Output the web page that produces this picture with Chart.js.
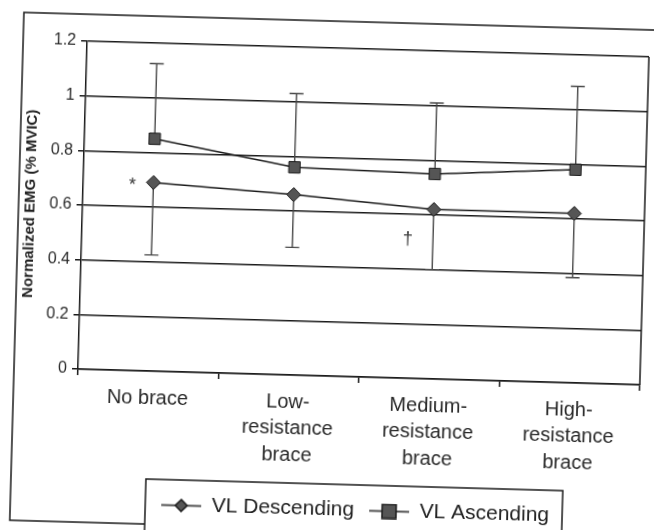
<!DOCTYPE html>
<html>
<head>
<meta charset="utf-8">
<script src="https://cdn.jsdelivr.net/npm/chart.js@4.4.1/dist/chart.umd.min.js"></script>
<style>
  html, body { margin: 0; padding: 0; background: #fff; overflow: hidden; }
  #wrap { width: 654px; height: 560px; transform: rotate(1.6deg); transform-origin: 327px 265px; }
</style>
</head>
<body>
<div id="wrap"><canvas id="grafico" width="654" height="560"></canvas></div>
<script>
// values (skew removed)
const categories = [['No brace'], ['Low-', 'resistance', 'brace'], ['Medium-', 'resistance', 'brace'], ['High-', 'resistance', 'brace']];
const descending = [0.69, 0.66, 0.62, 0.62];
const descendingLow = [0.425, 0.467, 0.40, 0.385];
const ascending = [0.85, 0.76, 0.75, 0.78];
const ascendingHigh = [1.125, 1.03, 1.01, 1.085];
const yTicks = [0, 0.2, 0.4, 0.6, 0.8, 1, 1.2];
// significance marks, in category index / value units
const notes = [{ text: '*', x: -0.15, y: 0.675 }, { text: '†', x: 1.82, y: 0.51 }];

const ink = '#1a1a1a';

function legendIcon(shape) {
  const c = document.createElement('canvas');
  c.width = 40; c.height = 16;
  const g = c.getContext('2d');
  g.strokeStyle = ink; g.lineWidth = 1.5;
  g.beginPath(); g.moveTo(0, 8); g.lineTo(40, 8); g.stroke();
  g.fillStyle = '#555';
  if (shape === 'diamond') {
    g.beginPath(); g.moveTo(20, 2); g.lineTo(26, 8); g.lineTo(20, 14); g.lineTo(14, 8); g.closePath();
    g.fill(); g.stroke();
  } else {
    g.fillRect(13, 1, 14, 14); g.strokeRect(13, 1, 14, 14);
  }
  return c;
}
const icons = [legendIcon('diamond'), legendIcon('square')];

const frame = {
  id: 'frame',
  beforeDraw(chart) {
    const ctx = chart.ctx;
    ctx.save();
    ctx.fillStyle = '#fff';
    ctx.fillRect(0, 0, chart.width, chart.height);
    ctx.strokeStyle = ink; ctx.lineWidth = 1.5;
    ctx.strokeRect(17, 21, 700, 508);
    // legend box
    const hb = chart.legend.legendHitBoxes;
    const l = Math.min(...hb.map(h => h.left)) - 16;
    const r = Math.max(...hb.map(h => h.left + h.width)) + 13;
    const t = chart.legend.top;
    ctx.fillRect(l, t, r - l, 80);
    ctx.strokeRect(l, t, r - l, 80);
    ctx.restore();
  },
  afterDatasetsDraw(chart) {
    const { ctx, chartArea: a, scales: { x, y } } = chart;
    ctx.save();
    ctx.strokeStyle = ink; ctx.lineWidth = 1.5;
    ctx.beginPath(); ctx.moveTo(a.right, a.top); ctx.lineTo(a.right, a.bottom); ctx.stroke();
    ctx.fillStyle = '#333';
    ctx.font = '18px "Liberation Sans", Arial, sans-serif';
    ctx.textAlign = 'center'; ctx.textBaseline = 'middle';
    notes.forEach(n => ctx.fillText(n.text, x.getPixelForValue(n.x), y.getPixelForValue(n.y)));
    ctx.restore();
  }
};

const errorBars = {
  id: 'errorBars',
  beforeDatasetsDraw(chart) {
    const { ctx, scales: { x, y } } = chart;
    ctx.save();
    ctx.strokeStyle = '#4a4a4a'; ctx.lineWidth = 1.4;
    const bar = (i, from, to) => {
      const px = x.getPixelForValue(i);
      const y0 = y.getPixelForValue(from), y1 = y.getPixelForValue(to);
      ctx.beginPath();
      ctx.moveTo(px, y0); ctx.lineTo(px, y1);
      ctx.moveTo(px - 7, y1); ctx.lineTo(px + 7, y1);
      ctx.stroke();
    };
    ascending.forEach((v, i) => bar(i, v, ascendingHigh[i]));
    descending.forEach((v, i) => bar(i, v, descendingLow[i]));
    ctx.restore();
  }
};

new Chart(document.getElementById('grafico'), {
  type: 'line',
  data: {
    labels: categories,
    datasets: [{
      label: 'VL Descending',
      data: descending,
      borderColor: ink, borderWidth: 1.5,
      pointStyle: 'rectRot', pointRadius: 7,
      pointBackgroundColor: '#555', pointBorderColor: ink, pointBorderWidth: 1
    }, {
      label: 'VL Ascending',
      data: ascending,
      borderColor: ink, borderWidth: 1.5,
      pointStyle: 'rect', pointRadius: 8,
      pointBackgroundColor: '#555', pointBorderColor: ink, pointBorderWidth: 1
    }]
  },
  options: {
    responsive: false,
    animation: false,
    layout: { padding: { left: 0, right: 11, top: 48, bottom: 30 } },
    plugins: {
      tooltip: { enabled: false },
      legend: {
        position: 'bottom',
        fullSize: false,
        labels: {
          usePointStyle: true,
          pointStyleWidth: 40,
          padding: 15,
          color: '#222',
          font: { family: '"Liberation Sans", Arial, sans-serif', size: 21 },
          generateLabels(chart) {
            const items = Chart.defaults.plugins.legend.labels.generateLabels(chart);
            items.forEach((it, i) => { it.pointStyle = icons[i]; });
            return items;
          }
        }
      }
    },
    scales: {
      x: {
        offset: true,
        afterFit(s) { s.height = 108; },
        grid: { display: true, drawOnChartArea: false, offset: true, tickLength: 6, color: ink, lineWidth: 1.5 },
        border: { display: true, color: ink, width: 1.5 },
        ticks: {
          maxRotation: 0, autoSkip: false, padding: 8, color: '#2a2a2a',
          font: { family: '"Liberation Sans", Arial, sans-serif', size: 20, lineHeight: 1.32 }
        }
      },
      y: {
        min: 0, max: 1.2,
        afterFit(s) { s.width = 81; },
        afterBuildTicks(s) { s.ticks = yTicks.map(v => ({ value: v })); },
        grid: { color: ink, lineWidth: 1.5, tickLength: 6 },
        border: { display: true, color: ink, width: 1.5 },
        ticks: {
          padding: 5, color: '#2a2a2a',
          font: { family: '"Liberation Sans", Arial, sans-serif', size: 16 },
          callback: v => String(v)
        },
        title: {
          display: true,
          text: 'Normalized EMG (% MVIC)',
          color: '#222',
          padding: { top: 20, bottom: 0 },
          font: { family: '"Liberation Sans", Arial, sans-serif', size: 15, weight: 'bold' }
        }
      }
    }
  },
  plugins: [frame, errorBars]
});
</script>
</body>
</html>
